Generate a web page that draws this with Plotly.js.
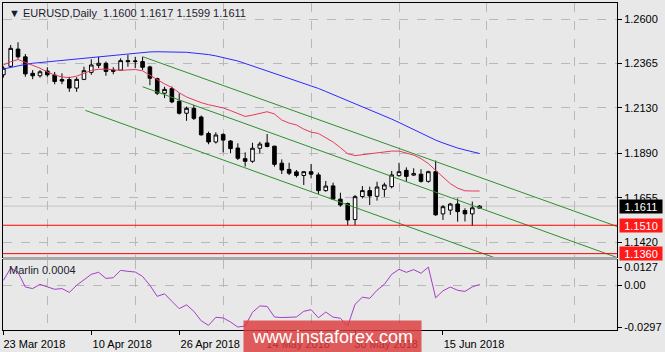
<!DOCTYPE html>
<html><head><meta charset="utf-8">
<script src="https://cdn.plot.ly/plotly-3.0.1.min.js"></script>
<style>html,body{margin:0;padding:0;background:#e8e8e8;}#chart{width:665px;height:352px;}</style>
</head><body><div id="chart"></div>
<script>
const symbol = 'EURUSD', timeframe = 'Daily';
const dates = ['2018-03-23','2018-03-26','2018-03-27','2018-03-28','2018-03-29','2018-03-30',
'2018-04-02','2018-04-03','2018-04-04','2018-04-05','2018-04-06','2018-04-09','2018-04-10','2018-04-11','2018-04-12','2018-04-13',
'2018-04-16','2018-04-17','2018-04-18','2018-04-19','2018-04-20','2018-04-23','2018-04-24','2018-04-25','2018-04-26','2018-04-27',
'2018-04-30','2018-05-01','2018-05-02','2018-05-03','2018-05-04','2018-05-07','2018-05-08','2018-05-09','2018-05-10','2018-05-11',
'2018-05-14','2018-05-15','2018-05-16','2018-05-17','2018-05-18','2018-05-21','2018-05-22','2018-05-23','2018-05-24','2018-05-25',
'2018-05-28','2018-05-29','2018-05-30','2018-05-31','2018-06-01','2018-06-04','2018-06-05','2018-06-06','2018-06-07','2018-06-08',
'2018-06-11','2018-06-12','2018-06-13','2018-06-14','2018-06-15','2018-06-18','2018-06-19','2018-06-20','2018-06-21','2018-06-22'];
const open  = [1.2305,1.2350,1.2441,1.2400,1.2313,1.2300,1.2325,1.2304,1.2280,1.2280,1.2235,1.2281,1.2318,1.2355,1.2366,1.2323,
1.2330,1.2380,1.2375,1.2375,1.2347,1.2285,1.2208,1.2232,1.2165,1.2102,1.2128,1.2082,1.1995,1.1950,1.1990,1.1955,1.1918,1.1862,1.1848,1.1917,
1.1945,1.1928,1.1838,1.1805,1.1792,1.1773,1.1793,1.1776,1.1693,1.1718,1.1648,1.1625,1.1540,1.1662,1.1693,1.1663,1.1700,1.1714,1.1772,1.1800,
1.1775,1.1780,1.1742,1.1793,1.1570,1.1590,1.1622,1.1588,1.1570,1.1600];
const high  = [1.2350,1.2463,1.2477,1.2415,1.2330,1.2330,1.2345,1.2320,1.2313,1.2295,1.2292,1.2348,1.2387,1.2400,1.2375,1.2345,
1.2392,1.2410,1.2400,1.2400,1.2353,1.2290,1.2242,1.2243,1.2207,1.2137,1.2146,1.2090,1.2005,1.2001,1.1996,1.1960,1.1943,1.1895,1.1946,1.1951,
1.1992,1.1930,1.1858,1.1840,1.1802,1.1795,1.1834,1.1788,1.1744,1.1735,1.1682,1.1630,1.1670,1.1717,1.1714,1.1740,1.1735,1.1797,1.1840,1.1816,
1.1811,1.1806,1.1798,1.1852,1.1617,1.1628,1.1652,1.1600,1.1635,1.1617];
const low   = [1.2290,1.2345,1.2390,1.2295,1.2282,1.2290,1.2295,1.2255,1.2256,1.2215,1.2215,1.2277,1.2305,1.2340,1.2300,1.2308,
1.2327,1.2348,1.2340,1.2330,1.2250,1.2198,1.2182,1.2155,1.2095,1.2062,1.2066,1.1983,1.1938,1.1942,1.1895,1.1890,1.1855,1.1820,1.1840,1.1890,
1.1922,1.1820,1.1781,1.1775,1.1763,1.1723,1.1758,1.1675,1.1687,1.1643,1.1608,1.1510,1.1510,1.1652,1.1617,1.1640,1.1660,1.1705,1.1767,1.1740,
1.1770,1.1735,1.1735,1.1560,1.1538,1.1565,1.1529,1.1530,1.1506,1.1599];
const close = [1.2340,1.2445,1.2400,1.2310,1.2300,1.2321,1.2305,1.2270,1.2272,1.2235,1.2281,1.2327,1.2357,1.2366,1.2323,1.2330,
1.2380,1.2375,1.2378,1.2345,1.2287,1.2208,1.2228,1.2162,1.2102,1.2128,1.2075,1.1988,1.1950,1.1987,1.1960,1.1915,1.1864,1.1848,1.1917,1.1939,
1.1926,1.1832,1.1802,1.1785,1.1773,1.1793,1.1780,1.1693,1.1717,1.1648,1.1617,1.1538,1.1661,1.1693,1.1665,1.1712,1.1723,1.1776,1.1793,1.1768,
1.1783,1.1742,1.1793,1.1565,1.1608,1.1622,1.1582,1.1570,1.1602,1.1611];
const maRed = [1.2357,1.2374,1.2386,1.2372,1.2356,1.2340,1.2320,1.2304,1.2294,1.2290,1.2298,1.2314,1.2328,1.2334,1.2335,1.2332,
1.2328,1.2331,1.2333,1.2326,1.2302,1.2278,1.2257,1.2238,1.2210,1.2188,1.2172,1.2158,1.2147,1.2140,1.2130,1.2116,1.2100,1.2085,1.2092,1.2100,
1.2110,1.2098,1.2066,1.2050,1.2040,1.2018,1.2002,1.1995,1.1973,1.1950,1.1920,1.1888,1.1878,1.1882,1.1888,1.1892,1.1897,1.1902,1.1902,1.1893,
1.1881,1.1862,1.1836,1.1800,1.1765,1.1730,1.1706,1.1692,1.1691,1.1691];
const maBlue = [1.2336,1.2345,1.2350,1.2360,1.2366,1.2370,1.2374,1.2378,1.2381,1.2383,1.2386,1.2390,1.2394,1.2399,1.2403,1.2407,
1.2411,1.2416,1.2421,1.2424,1.2426,1.2427,1.2427,1.2427,1.2426,1.2424,1.2420,1.2417,1.2412,1.2405,1.2397,1.2389,1.2378,1.2365,1.2352,1.2338,
1.2325,1.2312,1.2299,1.2286,1.2275,1.2262,1.2246,1.2233,1.2217,1.2201,1.2185,1.2169,1.2153,1.2138,1.2122,1.2106,1.2090,1.2071,1.2053,1.2034,
1.2016,1.1997,1.1979,1.1960,1.1945,1.1931,1.1918,1.1908,1.1897,1.1889];
const marlin = [0.0033,0.0120,0.0090,-0.0014,-0.0025,0.0005,-0.0013,-0.0030,-0.0025,-0.0052,-0.0002,0.0040,0.0076,0.0090,0.0047,0.0052,
0.0104,0.0097,0.0092,0.0061,-0.0002,-0.0080,-0.0062,-0.0115,-0.0167,-0.0140,-0.0186,-0.0253,-0.0285,-0.0228,-0.0233,-0.0261,-0.0297,-0.0290,
-0.0193,-0.0148,-0.0151,-0.0226,-0.0230,-0.0228,-0.0226,-0.0186,-0.0174,-0.0232,-0.0191,-0.0227,-0.0235,-0.0290,-0.0136,-0.0086,-0.0094,
-0.0037,0.0005,0.0076,0.0111,0.0090,0.0109,0.0083,0.0127,-0.0090,-0.0041,-0.0014,-0.0037,-0.0045,-0.0013,0.0004];
// channel trend lines (bar index, price)
const chanUpperIdx = [19, 83.8],  chanUpperPx = [1.2401, 1.1503];
const chanMidIdx   = [19, 83.8],  chanMidPx   = [1.2242, 1.1339];
const chanLowIdx   = [11.2, 83.8], chanLowPx  = [1.2117, 1.1105];
const levelLines = [1.1510, 1.1360];
const priceTicks = ['1.2600','1.2365','1.2130','1.1890','1.1655','1.1420'];
const marlinTicks = ['0.0127','0.00','-0.0297'];
const labelDates = ['2018-03-23','2018-04-10','2018-04-26','2018-05-14','2018-05-30','2018-06-15'];
const labelText  = ['23 Mar 2018','10 Apr 2018','26 Apr 2018','14 May 2018','30 May 2018','15 Jun 2018'];
const gridIdx = [6,18,30,42,54,66,78];

const idx = dates.map((d,i)=>i);
const last = dates.length-1;
const xr = [-0.05, 83.75];
const yr = [1.13421, 1.26846];
const y2r = [-0.0318, 0.0177];
const font = 'Liberation Sans, Arial, sans-serif';

const traces = [
 {type:'scatter',mode:'lines',x:chanLowIdx,y:chanLowPx,xaxis:'x2',yaxis:'y',line:{color:'#2f8f2f',width:1},hoverinfo:'skip'},
 {type:'scatter',mode:'lines',x:chanMidIdx,y:chanMidPx,xaxis:'x2',yaxis:'y',line:{color:'#2f8f2f',width:1},hoverinfo:'skip'},
 {type:'scatter',mode:'lines',x:chanUpperIdx,y:chanUpperPx,xaxis:'x2',yaxis:'y',line:{color:'#2f8f2f',width:1},hoverinfo:'skip'},
 {type:'scatter',mode:'lines',x:idx,y:maBlue,xaxis:'x2',yaxis:'y',line:{color:'#2b2bff',width:1},hoverinfo:'skip'},
 {type:'scatter',mode:'lines',x:idx,y:maRed,xaxis:'x2',yaxis:'y',line:{color:'#e8385c',width:1},hoverinfo:'skip'},
 {type:'candlestick',x:idx,open:open,high:high,low:low,close:close,xaxis:'x2',yaxis:'y',
  increasing:{line:{color:'#000',width:1},fillcolor:'#ffffff'},
  decreasing:{line:{color:'#000',width:1},fillcolor:'#000000'},whiskerwidth:0,hoverinfo:'skip'},
 {type:'scatter',mode:'lines',x:idx,y:marlin,xaxis:'x',yaxis:'y2',line:{color:'#a83cc8',width:1},hoverinfo:'skip'}
];

const minorGrid = {tickvals:gridIdx, showgrid:true, gridcolor:'#b8b8b8', griddash:'dash', gridwidth:1, ticks:''};
const tickvals = labelDates.map(d=>dates.indexOf(d));
const layout = {
 width:665, height:352, margin:{l:3,r:48,t:3,b:22},
 paper_bgcolor:'#e8e8e8', plot_bgcolor:'#e8e8e8', showlegend:false,
 font:{family:font,size:11,color:'#000'},
 xaxis:{domain:[0,1],anchor:'y2',range:xr,tickmode:'array',tickvals:tickvals,ticktext:labelText,
   ticks:'outside',ticklen:4,tickcolor:'#000',showgrid:false,zeroline:false,showline:true,linecolor:'#000',mirror:true,
   ticklabelshift:31,minor:minorGrid,rangeslider:{visible:false},fixedrange:true},
 xaxis2:{domain:[0,1],anchor:'y',range:xr,showticklabels:false,ticks:'',tickvals:[],showgrid:false,zeroline:false,
   showline:true,linecolor:'#000',mirror:true,minor:minorGrid,rangeslider:{visible:false},fixedrange:true},
 yaxis:{domain:[0.2232,1],anchor:'x2',side:'right',range:yr,tickmode:'array',tickvals:priceTicks.map(Number),ticktext:priceTicks,
   ticks:'outside',ticklen:4,tickcolor:'#000',showgrid:true,gridcolor:'#b8b8b8',griddash:'dash',zeroline:false,
   showline:true,linecolor:'#000',mirror:true,fixedrange:true},
 yaxis2:{domain:[0,0.214],anchor:'x',side:'right',range:y2r,tickmode:'array',tickvals:marlinTicks.map(Number),ticktext:marlinTicks,
   ticks:'outside',ticklen:4,tickcolor:'#000',showgrid:false,zeroline:false,showline:true,linecolor:'#000',mirror:true,
   minor:{tickvals:[0],showgrid:true,gridcolor:'#b8b8b8',griddash:'dash',ticks:''},fixedrange:true},
 shapes:[
  {type:'rect',xref:'paper',yref:'paper',x0:0,x1:1,y0:0.214,y1:0.2232,fillcolor:'#a8a8a8',line:{width:0},layer:'above'},
  {type:'line',xref:'x2 domain',yref:'y',x0:0,x1:1,y0:close[last],y1:close[last],line:{color:'#c4c4c4',width:1},layer:'below'},
  {type:'line',xref:'x2 domain',yref:'y',x0:0,x1:1,y0:levelLines[0],y1:levelLines[0],line:{color:'#ff0000',width:1},layer:'above'},
  {type:'line',xref:'x2 domain',yref:'y',x0:0,x1:1,y0:levelLines[1],y1:levelLines[1],line:{color:'#ff0000',width:1},layer:'above'}
 ],
 annotations:[
  {xref:'paper',yref:'paper',x:0,y:1,xanchor:'left',yanchor:'top',xshift:4,yshift:-2,showarrow:false,
   text:'▼ '+symbol+','+timeframe+'  '+[open[last],high[last],low[last],close[last]].map(v=>v.toFixed(4)).join(' '),
   font:{family:font,size:11,color:'#1c1c30'}},
  {xref:'paper',yref:'y2 domain',x:0,y:1,xanchor:'left',yanchor:'top',xshift:4,yshift:-2,showarrow:false,
   text:'Marlin '+marlin[last].toFixed(4),font:{family:font,size:11,color:'#1c1c30'}},
  {xref:'paper',yref:'y',x:1,y:close[last],xanchor:'left',xshift:2,showarrow:false,text:close[last].toFixed(4),
   bgcolor:'#000',width:42,height:13,font:{family:font,size:11,color:'#fff'},borderpad:0},
  {xref:'paper',yref:'y',x:1,y:levelLines[0],xanchor:'left',xshift:2,showarrow:false,text:levelLines[0].toFixed(4),
   bgcolor:'#ff1a1a',width:42,height:13,font:{family:font,size:11,color:'#fff'},borderpad:0},
  {xref:'paper',yref:'y',x:1,y:levelLines[1],xanchor:'left',xshift:2,showarrow:false,text:levelLines[1].toFixed(4),
   bgcolor:'#ff1a1a',width:42,height:13,font:{family:font,size:11,color:'#fff'},borderpad:0},
  {xref:'paper',yref:'paper',x:0.536,y:-0.0214,xanchor:'center',yanchor:'middle',showarrow:false,text:'www.instaforex.com',
   bgcolor:'rgba(221,60,60,0.82)',width:175,height:30,font:{family:font,size:18,color:'#fff'}}
 ]
};
Plotly.newPlot('chart',traces,layout,{staticPlot:true,displayModeBar:false});
</script></body></html>
